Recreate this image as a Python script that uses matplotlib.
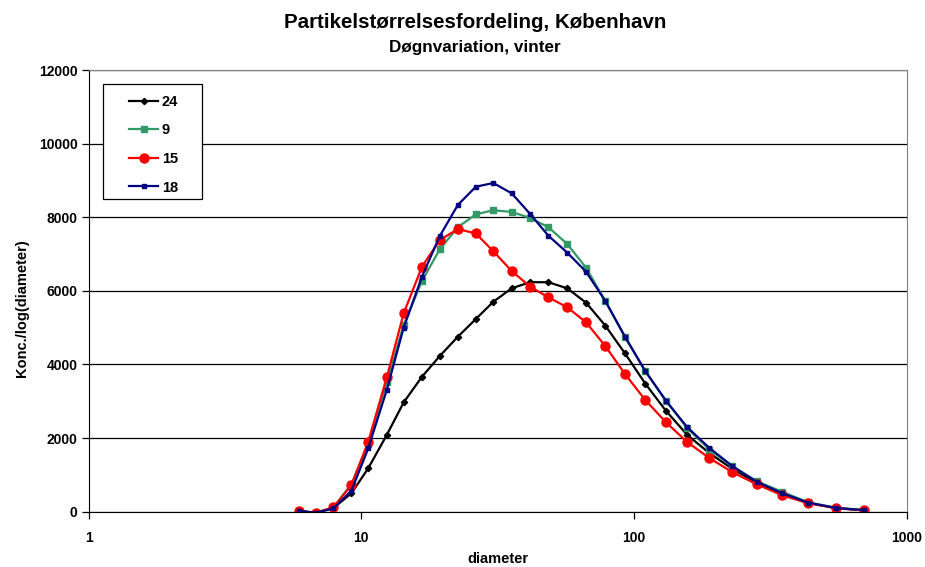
import matplotlib
matplotlib.use('Agg')
import matplotlib.pyplot as plt
from matplotlib import ticker
from matplotlib.patches import Rectangle

plt.rcParams['font.family'] = ['Liberation Sans', 'DejaVu Sans']
plt.rcParams['font.weight'] = 'bold'

# particle diameters (nm) of the size channels
diameter = [5.9, 6.8, 7.9, 9.2, 10.6, 12.4, 14.3, 16.7, 19.4, 22.6,
            26.3, 30.5, 35.6, 41.6, 48.5, 56.9, 66.7, 78.5, 92.7, 110.0,
            131.0, 156.8, 188.8, 229.3, 281.8, 349.9, 435.7, 550.6, 697.3]

# dN/dlogD for each time of day
h24 = [25, -30, 100, 500, 1180, 2085, 2970, 3670, 4230, 4755,
       5235, 5705, 6070, 6235, 6235, 6070, 5680, 5055, 4300, 3480,
       2740, 2085, 1595, 1165, 790, 480, 240, 100, 40]
h9 = [25, -30, 120, 750, 1850, 3515, 5075, 6270, 7130, 7730,
      8080, 8190, 8145, 7980, 7730, 7275, 6630, 5725, 4740, 3810,
      3010, 2270, 1690, 1235, 830, 540, 255, 110, 45]
h15 = [20, -30, 115, 725, 1900, 3650, 5390, 6660, 7380, 7680,
       7560, 7075, 6540, 6115, 5825, 5555, 5145, 4500, 3740, 3035,
       2430, 1890, 1460, 1075, 745, 445, 230, 95, 36]
h18 = [25, -30, 90, 570, 1720, 3310, 5000, 6390, 7490, 8335,
       8830, 8930, 8650, 8090, 7500, 7040, 6520, 5725, 4755, 3825,
       3015, 2295, 1735, 1240, 815, 500, 245, 100, 42]

fig = plt.figure(figsize=(9.25, 5.67), dpi=100)
ax = fig.add_axes([0.0958, 0.0975, 0.8844, 0.779])

ax.plot(diameter, h24, color='#000000', lw=1.6, marker='D', ms=3.2, label='24')
ax.plot(diameter, h9, color='#339966', lw=1.6, marker='s', ms=4.2, label='9')
ax.plot(diameter, h15, color='#ff0000', lw=1.6, marker='o', ms=6.5, label='15')
ax.plot(diameter, h18, color='#000080', lw=1.6, marker='s', ms=3.2, label='18')

ax.set_xscale('log')
ax.set_xlim(1, 1000)
ax.set_ylim(0, 12000)
ax.set_yticks(range(0, 12001, 2000))
ax.xaxis.set_major_formatter(ticker.FuncFormatter(lambda v, p: '%d' % v))
ax.xaxis.set_minor_locator(ticker.NullLocator())
ax.yaxis.grid(True, color='#000000', lw=0.9)
ax.set_axisbelow(True)

for s in ['top', 'right']:
    ax.spines[s].set_color('#808080')
for s in ['left', 'bottom']:
    ax.spines[s].set_color('#000000')
ax.tick_params(axis='both', direction='out', length=5, width=0.9,
               labelsize=10, pad=3)
ax.tick_params(axis='x', pad=9)

ax.set_xlabel('diameter', fontsize=10.5, fontweight='bold', labelpad=5)
ax.set_ylabel('Konc./log(diameter)', fontsize=10.5, fontweight='bold')
ax.yaxis.set_label_coords(-0.073, 0.46)

fig.text(0.5135, 0.961, 'Partikelstørrelsesfordeling, København',
         ha='center', va='center', fontsize=14.8, fontweight='bold')
fig.text(0.5135, 0.917, 'Døgnvariation, vinter',
         ha='center', va='center', fontsize=12.3, fontweight='bold')

# legend box drawn separately so it can be wider than its entries
ax.add_patch(Rectangle((0.018, 0.707), 0.1203, 0.261, transform=ax.transAxes,
                       facecolor='white', edgecolor='#000000', lw=0.9,
                       zorder=4))
leg = ax.legend(loc='upper left', bbox_to_anchor=(0.0494, 0.944),
                frameon=False, fontsize=10.5, handlelength=1.99,
                labelspacing=1.0, borderpad=0, handletextpad=0.25,
                borderaxespad=0)
leg.set_zorder(5)
for t in leg.get_texts():
    t.set_fontweight('bold')

fig.savefig('out.png', dpi=100)
